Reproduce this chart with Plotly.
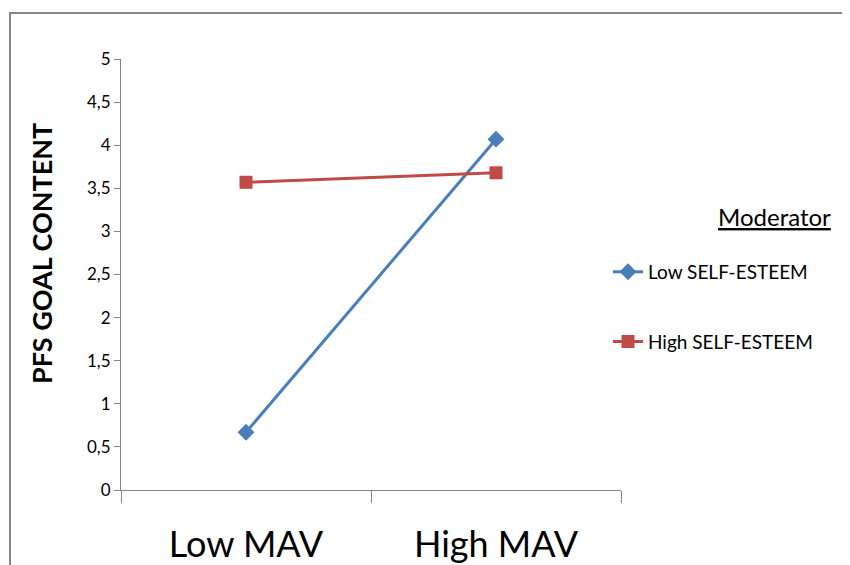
import plotly.graph_objects as go

categories = ["Low MAV", "High MAV"]
low_self_esteem = [0.67, 4.07]
high_self_esteem = [3.57, 3.68]
y_ticks = [0, 0.5, 1, 1.5, 2, 2.5, 3, 3.5, 4, 4.5, 5]

FONT = "Lato, Open Sans, sans-serif"

fig = go.Figure()
fig.add_trace(go.Scatter(
    x=categories, y=low_self_esteem, name="Low SELF-ESTEEM", mode="lines+markers",
    line=dict(color="#4A7EBB", width=3),
    marker=dict(symbol="diamond", size=13, color="#4A7EBB"),
    legendgroup="a",
))
fig.add_trace(go.Scatter(
    x=categories, y=high_self_esteem, name="High SELF-ESTEEM", mode="lines+markers",
    line=dict(color="#BE4B48", width=3),
    marker=dict(symbol="square", size=13, color="#BE4B48"),
    legendgroup="b",
))

fig.update_layout(
    width=850, height=565,
    margin=dict(l=113, r=237, t=51, b=83, autoexpand=False),
    paper_bgcolor="white", plot_bgcolor="white",
    separators=",.",
    font=dict(family=FONT, color="#000000"),
    showlegend=True,
    legend=dict(
        x=0.974, y=0.55, xanchor="left", yanchor="top",
        font=dict(size=19, family=FONT, color="#000000"),
        tracegroupgap=42, bgcolor="rgba(0,0,0,0)",
    ),
    xaxis=dict(
        type="category", range=[-0.5, 1.5], tickson="boundaries",
        showline=True, linecolor="#868686", linewidth=1,
        ticks="outside", ticklen=12, tickcolor="#868686",
        tickfont=dict(size=36, family=FONT, color="#000000"),
        ticklabelstandoff=23, automargin=False,
        showgrid=False, zeroline=False,
    ),
    yaxis=dict(
        range=[0, 5], tickmode="array", tickvals=y_ticks,
        showline=True, linecolor="#868686", linewidth=1,
        ticks="outside", ticklen=6, tickcolor="#868686",
        tickfont=dict(size=17, family=FONT, color="#000000"),
        automargin=False,
        showgrid=False, zeroline=False,
    ),
    annotations=[
        dict(
            text="<u>Moderator</u>", xref="paper", yref="paper",
            x=1.424, y=0.635, xanchor="right", yanchor="middle",
            showarrow=False, font=dict(size=24, family=FONT, color="#000000"),
        ),
        dict(
            text="<b>PFS GOAL CONTENT</b>", xref="paper", yref="paper",
            x=-0.158, y=0.5476, xanchor="center", yanchor="middle", textangle=-90,
            showarrow=False, font=dict(size=27, family=FONT, color="#000000"),
        ),
    ],
    shapes=[dict(
        type="rect", xref="paper", yref="paper",
        x0=-0.222, x1=1.5, y0=-0.2, y1=1.107,
        line=dict(color="#868686", width=2), fillcolor="rgba(0,0,0,0)", layer="below",
    )],
)

fig.write_html("out.html")
